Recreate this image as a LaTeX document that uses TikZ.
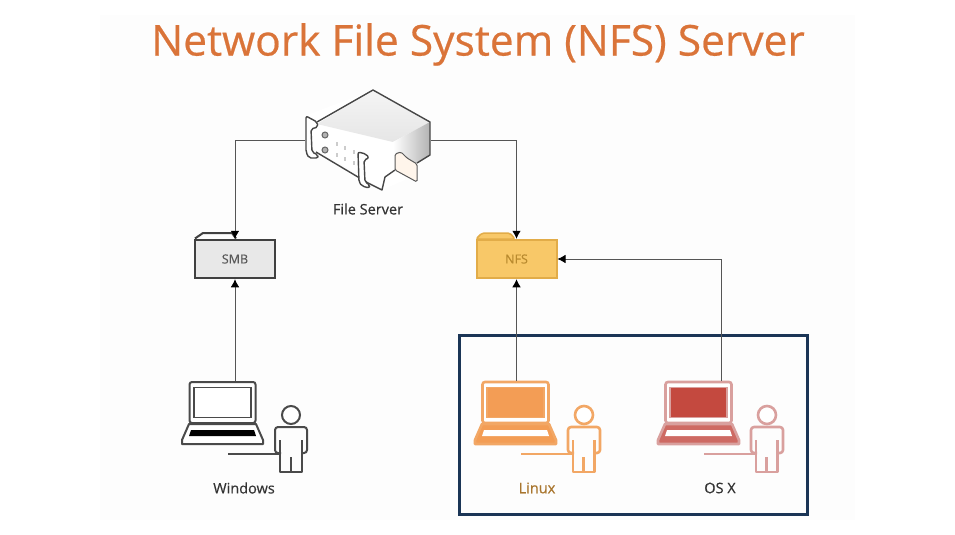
\documentclass[tikz,border=0pt]{standalone}
\usepackage{fontspec}
\setmainfont{Open Sans}
\newfontfamily\heavyfont[FakeBold=0.5]{Open Sans}
\usetikzlibrary{arrows.meta}
\definecolor{titleorange}{HTML}{DA7439}
\definecolor{navy}{HTML}{1B3556}
\definecolor{wire}{HTML}{555555}
\definecolor{nfsfill}{HTML}{F8C868}
\definecolor{nfsline}{HTML}{E2AC48}
\definecolor{nfstext}{HTML}{B98A2E}
\definecolor{linuxline}{HTML}{F2A765}
\definecolor{linuxfill}{HTML}{F39D55}
\definecolor{linuxtext}{HTML}{A9762F}
\definecolor{osxline}{HTML}{D9A09E}
\definecolor{osxfill}{HTML}{C4493F}
\definecolor{osxbase}{HTML}{CE6A63}
\definecolor{winline}{HTML}{4A4A4A}
\tikzset{
  wirecon/.style={draw=wire,line width=0.7pt,-{Latex[length=8pt,width=8.5pt,black]}},
  folder/.style={draw,line width=2pt,minimum width=80pt,minimum height=38.5pt,inner sep=0pt,outer sep=1pt,font=\heavyfont\fontsize{12.5}{14}\selectfont},
  lab/.style={font=\heavyfont\fontsize{14.5}{16}\selectfont,text=#1,inner sep=0pt},
  srv/.style={draw=black!72,line width=1.4pt,line join=round},
}
\newcommand{\lw}{2}
% name, dx, stroke, screen fill, base fill, key fill, person colour, label colour, label
\newcommand{\laptopuser}[9]{%
\begin{scope}[shift={(#2,0)}]
  \filldraw[draw=#3,fill=#5,line width=\lw pt,line join=round] (189,424) -- (182,440) -- (182,444) -- (263,444) -- (263,440) -- (256,424) -- cycle;
  \fill[#6] (191,430) -- (254,430) -- (256,436) -- (189,436) -- cycle;
  \node[draw=#3,fill=white,line width=\lw pt,rounded corners=2.5pt,minimum width=66pt,minimum height=41pt,inner sep=0pt,outer sep=1pt] (#1lap) at (222.5,402.5) {};
  \node[draw=#3,fill=#4,line width=1.3pt,minimum width=57pt,minimum height=30pt,inner sep=0pt] at (222.5,402.5) {};
  \node[draw=#7,fill=white,circle,line width=\lw pt,minimum size=18pt,inner sep=0pt] (#1head) at (291,415) {};
  \draw[#7,line width=\lw pt,rounded corners=3pt,line join=round] (281,453) -- (275,453) -- (275,427) -- (307,427) -- (307,453) -- (301,453);
  \draw[#7,line width=\lw pt,line join=round] (280,440) -- (280,472) -- (301.5,472) -- (301.5,440) (290.5,457) -- (290.5,472);
  \draw[#7,line width=\lw pt] (228,454) -- (280,454);
  \node[lab=#8] (#1label) at (244,488) {#9};
\end{scope}}
\begin{document}
\begin{tikzpicture}[x=1pt,y=-1pt]
\useasboundingbox (0,0) rectangle (955,535);
\fill[white] (0,0) rectangle (955,535);
\fill[black!0.8] (100,15) rectangle (855,520);

\node[text=titleorange,inner sep=0pt,font=\heavyfont\fontsize{42.5}{48}\selectfont] (title) at (478,44.5) {Network File System (NFS) Server};

% frame round the two NFS clients
\node[draw=navy,line width=2.3pt,minimum width=348pt,minimum height=179pt,inner sep=0pt] (clients) at (633.5,425) {};

% file server
\node[inner sep=0pt,minimum width=126pt,minimum height=40pt] (server) at (368,140) {};
\fill[white] (307,115) -- (373,90) -- (430,122) -- (430,155) -- (405,170) -- (405,180) -- (382,190) -- (360,175) -- (307,145) -- cycle;
\shade[top color=black!4,bottom color=black!10] (373,90) -- (430,122) -- (393,142) -- (317,124) -- cycle;
\shade[left color=white,right color=black!30] (393,142) -- (430,122) -- (430,155) -- (405,170) -- (393,160) -- cycle;
\draw[srv] (317,122) -- (373,90) -- (430,122) -- (430,155) -- (417,163);
\draw[srv] (395,170) -- (385,177) -- (382,190) -- (368,183) -- (316,152);
\filldraw[draw=black!65,line width=1pt,fill=orange!8,rounded corners=1.5pt] (395,154) -- (395,170) -- (417,182) -- (417,164) -- (407,158) -- (401,152) -- cycle;
\filldraw[srv,fill=white,rounded corners=2pt] (306,116) -- (317,122) -- (318,127) -- (311,129) -- (312,152) -- (318,155) -- (318,158) -- (309,158) -- (306,152) -- cycle;
\filldraw[srv,fill=white,rounded corners=2pt] (358,152) -- (366,154) -- (369,158) -- (364,160) -- (365,182) -- (370,185) -- (369,188) -- (362,186) -- (359,182) -- cycle;
\foreach \cy in {135,150}{\filldraw[draw=black!60,fill=black!30,line width=1pt] (325,\cy) circle (3pt);}
\foreach \cx/\cy in {336/142, 344/146, 353/150}{\fill[black!20] (\cx,\cy) rectangle ++(1.6,4); \fill[black!20] (\cx,\cy+11) rectangle ++(1.6,4);}
\node[lab=black!80] (serverlabel) at (368,209) {File Server};

% folders
\node[folder,draw=black!75,fill=black!9,text=black!65] (smb) at (235,259) {SMB};
\draw[black!75,line width=2pt,line join=round] (195,238.5) -- (203,233) -- (232,233) -- (236,238.5);
\node[folder,draw=nfsline,fill=nfsfill,text=nfstext] (nfs) at (516.5,259) {NFS};
\filldraw[draw=nfsline,fill=nfsfill,line width=1.5pt,line join=round,rounded corners=2pt] (476,239) -- (482,233) -- (510,233) -- (515,239) -- cycle;

% users
\laptopuser{win}{0}{winline}{white}{white}{black}{winline}{black!80}{Windows}
\renewcommand{\lw}{2.6}
\laptopuser{linux}{293}{linuxline}{linuxfill}{linuxfill}{white}{linuxline}{linuxtext}{Linux}
\laptopuser{osx}{476}{osxline}{osxfill}{osxbase}{white}{osxline}{black!80}{OS X}
\coordinate (osxport) at (721,381);

% connectors
\draw[wirecon] (server.west) -| (smb.north);
\draw[wirecon] (server.east) -| (nfs.north);
\draw[wirecon] (smb.south |- winlap.north) -- (smb.south);
\draw[wirecon] (nfs.south |- linuxlap.north) -- (nfs.south);
\draw[wirecon] (osxport) |- (nfs.east);
\end{tikzpicture}
\end{document}
